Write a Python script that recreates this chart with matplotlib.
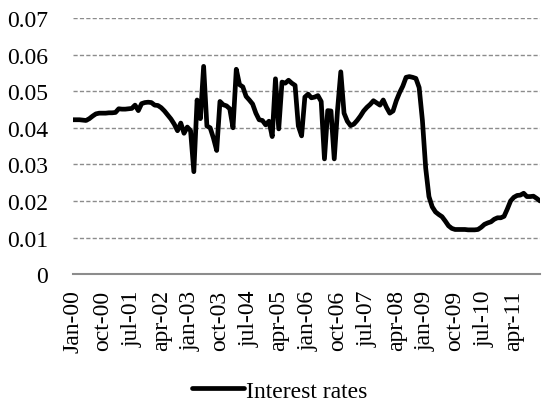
import matplotlib
matplotlib.use("Agg")
import matplotlib.pyplot as plt

# Monthly interest rates, Jan-2000 .. Dec-2011
rates = [
    0.0422, 0.0422, 0.0422, 0.0421, 0.0420, 0.0425, 0.0432, 0.0438, 0.0440, 0.0440,
    0.0440, 0.0441, 0.0441, 0.0442, 0.0452, 0.0451, 0.0451, 0.0452, 0.0453, 0.0462,
    0.0447, 0.0466, 0.0469, 0.0470, 0.0469, 0.0462, 0.0461, 0.0455, 0.0446, 0.0435,
    0.0424, 0.0410, 0.0392, 0.0413, 0.0385, 0.0402, 0.0392, 0.0280, 0.0476, 0.0425,
    0.0568, 0.0405, 0.0400, 0.0372, 0.0338, 0.0472, 0.0463, 0.0460, 0.0452, 0.0400,
    0.0560, 0.0518, 0.0512, 0.0486, 0.0476, 0.0465, 0.0440, 0.0422, 0.0420, 0.0408,
    0.0418, 0.0376, 0.0534, 0.0397, 0.0525, 0.0522, 0.0530, 0.0522, 0.0516, 0.0405,
    0.0378, 0.0484, 0.0492, 0.0482, 0.0484, 0.0488, 0.0472, 0.0315, 0.0447, 0.0446,
    0.0315, 0.0448, 0.0553, 0.0440, 0.0418, 0.0406, 0.0410, 0.0420, 0.0432, 0.0446,
    0.0456, 0.0464, 0.0474, 0.0468, 0.0462, 0.0476, 0.0456, 0.0440, 0.0446, 0.0474,
    0.0496, 0.0514, 0.0538, 0.0540, 0.0538, 0.0535, 0.0510, 0.0420, 0.0290, 0.0212,
    0.0184, 0.0170, 0.0163, 0.0157, 0.0145, 0.0132, 0.0125, 0.0122, 0.0122, 0.0122,
    0.0122, 0.0121, 0.0121, 0.0121, 0.0122, 0.0128, 0.0136, 0.0140, 0.0143, 0.0150,
    0.0154, 0.0154, 0.0158, 0.0178, 0.0200, 0.0210, 0.0215, 0.0216, 0.0221, 0.0212,
    0.0212, 0.0213, 0.0207, 0.0200,
]

tick_labels = ["Jan-00", "oct-00", "jul-01", "apr-02", "jan-03", "oct-03",
               "jul-04", "apr-05", "jan-06", "oct-06", "jul-07", "apr-08",
               "jan-09", "oct-09", "jul-10", "apr-11"]
tick_step = 9

y_ticks = [0, 0.01, 0.02, 0.03, 0.04, 0.05, 0.06, 0.07]
y_labels = ["0", "0.01", "0.02", "0.03", "0.04", "0.05", "0.06", "0.07"]

plt.rcParams["font.family"] = ["Liberation Serif", "DejaVu Serif"]
plt.rcParams["font.size"] = 17

fig = plt.figure(figsize=(5.51, 4.10), dpi=100)
ax = fig.add_axes([0.1325, 0.329, 0.8475, 0.6245])

months = list(range(len(rates)))
ax.plot(months, rates, color="black", lw=3.4, label="Interest rates",
        solid_joinstyle="round", solid_capstyle="round", zorder=3)

ax.set_xlim(0, len(rates) - 1)
ax.set_ylim(0, 0.07)
ax.set_yticks(y_ticks)
ax.set_yticklabels(y_labels)
ax.set_xticks([i * tick_step for i in range(len(tick_labels))])
ax.set_xticklabels(tick_labels, rotation=90)

ax.tick_params(axis="y", length=0, pad=18)
ax.tick_params(axis="x", length=0, pad=11)

for y in y_ticks[1:]:
    ax.axhline(y, color="#8c8c8c", lw=1.0, linestyle=(0, (3, 1.6)), zorder=1)

for s in ["top", "right", "left"]:
    ax.spines[s].set_visible(False)
ax.spines["bottom"].set_color("#8c8c8c")
ax.spines["bottom"].set_linewidth(1.5)

fig.legend(loc="lower center", bbox_to_anchor=(0.508, -0.005), frameon=False,
           handlelength=2.2, handletextpad=0.1, borderaxespad=0.0)

fig.savefig("out.png", dpi=100)
